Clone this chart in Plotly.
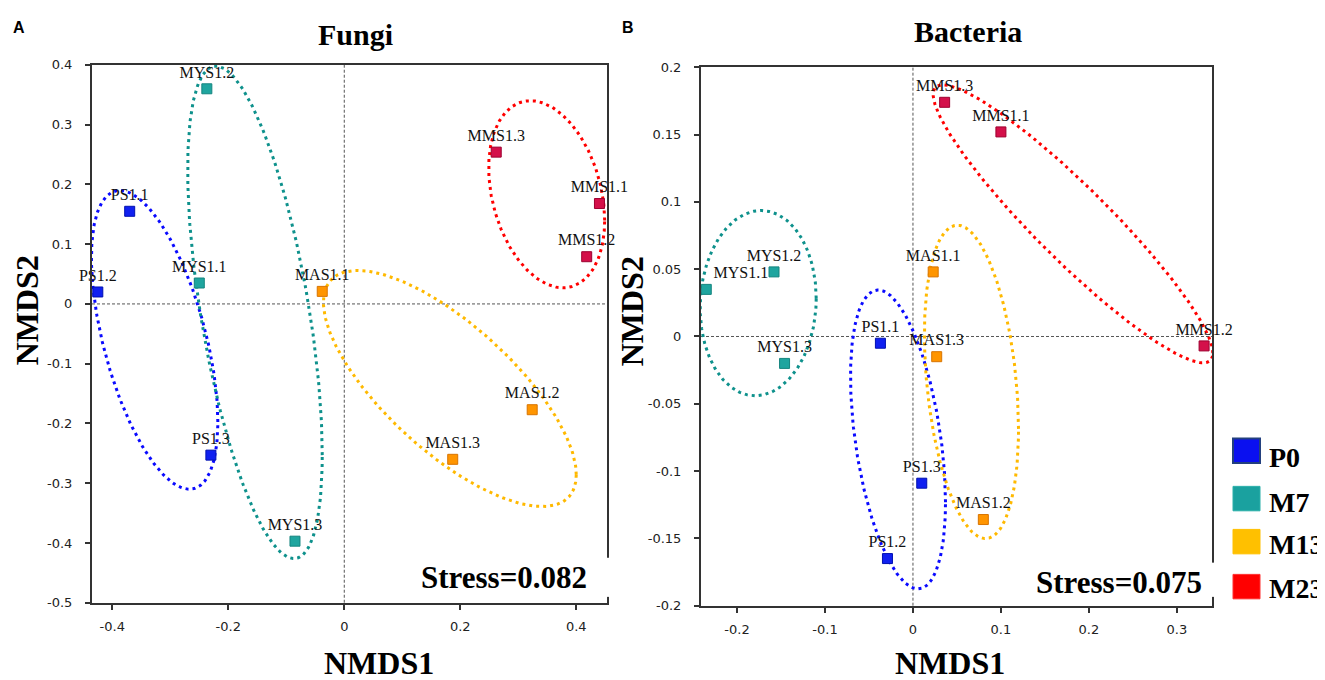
import numpy as np
import plotly.graph_objects as go

W, H = 1325, 680

# groups and colours
groups = ["P0", "M7", "M13", "M23"]
marker_fill = ["#1020F0", "#1FA59F", "#FF9500", "#D4104A"]
marker_edge = ["#0010B0", "#15857F", "#D87400", "#9E0030"]
ellipse_color = ["#0A0AFF", "#0E918C", "#FFB900", "#FF0000"]
legend_color = ["#0A10F0", "#1AA19F", "#FFC000", "#FF0000"]
legend_edge = ["#23407E", "#2AB0AA", "#FFC000", "#FF3030"]

# Fungi NMDS scores (panel A)
fungi_sample = ["PS1.1", "PS1.2", "PS1.3", "MYS1.1", "MYS1.2", "MYS1.3",
                "MAS1.1", "MAS1.2", "MAS1.3", "MMS1.1", "MMS1.2", "MMS1.3"]
fungi_group = ["P0"] * 3 + ["M7"] * 3 + ["M13"] * 3 + ["M23"] * 3
fungi_nmds1 = [-0.370, -0.425, -0.230, -0.250, -0.237, -0.085,
               -0.038, 0.324, 0.187, 0.440, 0.418, 0.262]
fungi_nmds2 = [0.155, 0.020, -0.253, 0.035, 0.360, -0.397,
               0.021, -0.177, -0.260, 0.168, 0.079, 0.254]
# ellipse: centre, half width, half height, tilt (per group P0, M7, M13, M23)
fungi_ell_cx = [-0.327, -0.154, 0.182, 0.349]
fungi_ell_cy = [-0.060, -0.014, -0.1415, 0.1835]
fungi_ell_wx = [0.109, 0.116, 0.218, 0.100]
fungi_ell_wy = [0.250, 0.412, 0.1975, 0.1565]
fungi_ell_rho = [-0.55, -0.58, -0.73, -0.28]
fungi_stress = "Stress=0.082"

# Bacteria NMDS scores (panel B)
bact_sample = ["PS1.1", "PS1.2", "PS1.3", "MYS1.1", "MYS1.2", "MYS1.3",
               "MAS1.1", "MAS1.2", "MAS1.3", "MMS1.1", "MMS1.2", "MMS1.3"]
bact_group = ["P0"] * 3 + ["M7"] * 3 + ["M13"] * 3 + ["M23"] * 3
bact_nmds1 = [-0.037, -0.029, 0.010, -0.235, -0.158, -0.146,
              0.023, 0.080, 0.027, 0.100, 0.331, 0.036]
bact_nmds2 = [-0.005, -0.165, -0.109, 0.035, 0.048, -0.020,
              0.048, -0.136, -0.015, 0.152, -0.007, 0.174]
bact_ell_cx = [-0.017, -0.176, 0.0665, 0.182]
bact_ell_cy = [-0.0765, 0.0248, -0.0337, 0.0837]
bact_ell_wx = [0.054, 0.066, 0.0535, 0.159]
bact_ell_wy = [0.111, 0.0688, 0.1164, 0.1033]
bact_ell_rho = [-0.42, 0.05, -0.30, -0.93]
bact_stress = "Stress=0.075"

fungi_yticks = [0.4, 0.3, 0.2, 0.1, 0, -0.1, -0.2, -0.3, -0.4, -0.5]
fungi_ytext = ["0.4", "0.3", "0.2", "0.1", "0", "-0.1", "-0.2", "-0.3", "-0.4", "-0.5"]
fungi_xticks = [-0.4, -0.2, 0, 0.2, 0.4]
fungi_xtext = ["-0.4", "-0.2", "0", "0.2", "0.4"]
bact_yticks = [0.2, 0.15, 0.1, 0.05, 0, -0.05, -0.1, -0.15, -0.2]
bact_ytext = ["0.2", "0.15", "0.1", "0.05", "0", "-0.05", "-0.1", "-0.15", "-0.2"]
bact_xticks = [-0.2, -0.1, 0, 0.1, 0.2, 0.3]
bact_xtext = ["-0.2", "-0.1", "0", "0.1", "0.2", "0.3"]

SERIF = "Liberation Serif, Times New Roman, serif"
SANS = "DejaVu Sans, Verdana, sans-serif"


def px(x):
    return x / W


def py(y):
    return 1 - y / H


def ellipse(cx, cy, wx, wy, rho, n=260):
    t = np.linspace(0, 2 * np.pi, n)
    x = cx + wx * np.cos(t)
    y = cy + wy * (rho * np.cos(t) + np.sqrt(1 - rho ** 2) * np.sin(t))
    return x, y


fig = go.Figure()

panels = [
    ("x", "y", fungi_sample, fungi_group, fungi_nmds1, fungi_nmds2,
     fungi_ell_cx, fungi_ell_cy, fungi_ell_wx, fungi_ell_wy, fungi_ell_rho),
    ("x2", "y2", bact_sample, bact_group, bact_nmds1, bact_nmds2,
     bact_ell_cx, bact_ell_cy, bact_ell_wx, bact_ell_wy, bact_ell_rho),
]

for xa, ya, samp, grp, n1, n2, ecx, ecy, ewx, ewy, erho in panels:
    for i, g in enumerate(groups):
        ex, ey = ellipse(ecx[i], ecy[i], ewx[i], ewy[i], erho[i])
        fig.add_trace(go.Scatter(x=ex, y=ey, mode="lines", xaxis=xa, yaxis=ya,
                                 line=dict(color=ellipse_color[i], width=3, dash="3px,4px"),
                                 hoverinfo="skip", showlegend=False))
    for i, g in enumerate(groups):
        idx = [k for k, gg in enumerate(grp) if gg == g]
        pos = ["top right" if (xa == "x2" and samp[k] == "MYS1.1") else "top center" for k in idx]
        fig.add_trace(go.Scatter(
            x=[n1[k] for k in idx], y=[n2[k] for k in idx],
            text=[samp[k] for k in idx], mode="markers+text",
            textposition=pos, cliponaxis=False,
            textfont=dict(family=SERIF, size=16, color="#111"),
            marker=dict(symbol="square", size=10, color=marker_fill[i],
                        line=dict(color=marker_edge[i], width=1)),
            xaxis=xa, yaxis=ya, name=g, showlegend=False))

axis_common = dict(showgrid=False, zeroline=False, showline=True, mirror=True,
                   linecolor="#333", linewidth=2, ticks="outside", ticklen=5,
                   tickwidth=1.5, tickcolor="#333",
                   tickfont=dict(family=SANS, size=13, color="#222"))

fig.update_layout(
    width=W, height=H, margin=dict(l=0, r=0, t=0, b=0),
    plot_bgcolor="white", paper_bgcolor="white", showlegend=False,
    xaxis=dict(domain=[px(84), px(599)], range=[-0.435, 0.453],
               tickvals=fungi_xticks, ticktext=fungi_xtext, ticklabelstandoff=6,
               anchor="y", **axis_common),
    yaxis=dict(domain=[py(601), py(51)], range=[-0.5, 0.4],
               tickvals=fungi_yticks, ticktext=fungi_ytext, ticklabelstandoff=10,
               anchor="x", **axis_common),
    xaxis2=dict(domain=[px(693), px(1204)], range=[-0.241, 0.34],
                tickvals=bact_xticks, ticktext=bact_xtext, ticklabelstandoff=6,
                anchor="y2", **axis_common),
    yaxis2=dict(domain=[py(604), py(53.5)], range=[-0.2, 0.2],
                tickvals=bact_yticks, ticktext=bact_ytext, ticklabelstandoff=10,
                anchor="x2", **axis_common),
)

shapes = []
for xa, ya in [("x", "y"), ("x2", "y2")]:
    shapes.append(dict(type="line", xref=xa, yref=ya + " domain", x0=0, x1=0, y0=0, y1=1,
                       line=dict(color="#555", width=1, dash="3px,2px"), layer="below"))
    shapes.append(dict(type="line", xref=xa + " domain", yref=ya, x0=0, x1=1, y0=0, y1=0,
                       line=dict(color="#555", width=1, dash="3px,2px"), layer="below"))

# white gaps in the right frame behind the stress labels
for x_edge, y0, y1 in [(599, 555, 595), (1204, 560, 595)]:
    shapes.append(dict(type="rect", xref="paper", yref="paper",
                       x0=px(x_edge - 3), x1=px(x_edge + 3), y0=py(y1), y1=py(y0),
                       fillcolor="white", line=dict(width=0), layer="above"))

# legend squares
leg_top = [433, 482, 526, 572]
for i, g in enumerate(groups):
    shapes.append(dict(type="rect", xref="paper", yref="paper",
                       x0=px(1225), x1=px(1252), y0=py(leg_top[i] + 25), y1=py(leg_top[i]),
                       fillcolor=legend_color[i],
                       line=dict(color=legend_edge[i], width=2 if i == 0 else 1)))
fig.update_layout(shapes=shapes)

ann = []
leg_text_y = [452, 498, 541, 586]
for i, g in enumerate(groups):
    ann.append(dict(x=px(1259), y=py(leg_text_y[i]), text="<b>%s</b>" % g, xanchor="left",
                    font=dict(family=SERIF, size=28, color="black")))

ann += [
    dict(x=px(347), y=py(20), text="<b>Fungi</b>", font=dict(family=SERIF, size=30, color="black")),
    dict(x=px(960), y=py(17), text="<b>Bacteria</b>", font=dict(family=SERIF, size=30, color="black")),
    dict(x=px(371), y=py(663), text="<b>NMDS1</b>", font=dict(family=SERIF, size=32, color="black")),
    dict(x=px(942), y=py(663), text="<b>NMDS1</b>", font=dict(family=SERIF, size=32, color="black")),
    dict(x=px(19), y=py(302), text="<b>NMDS2</b>", textangle=-90,
         font=dict(family=SERIF, size=32, color="black")),
    dict(x=px(624), y=py(303), text="<b>NMDS2</b>", textangle=-90,
         font=dict(family=SERIF, size=32, color="black")),
    dict(x=px(11), y=py(13), text="<b>A</b>", font=dict(family="Liberation Sans, Arial", size=16, color="black")),
    dict(x=px(620), y=py(13), text="<b>B</b>", font=dict(family="Liberation Sans, Arial", size=16, color="black")),
    dict(x=px(581), y=py(575), text="<b>%s</b>" % fungi_stress, xanchor="right",
         font=dict(family=SERIF, size=31, color="black")),
    dict(x=px(1196), y=py(580), text="<b>%s</b>" % bact_stress, xanchor="right",
         font=dict(family=SERIF, size=31, color="black")),
]
for a in ann:
    a.setdefault("xref", "paper")
    a.setdefault("yref", "paper")
    a.setdefault("showarrow", False)
    a.setdefault("xanchor", "center")
    a.setdefault("yanchor", "middle")
fig.update_layout(annotations=ann)

fig.write_html("out.html")
